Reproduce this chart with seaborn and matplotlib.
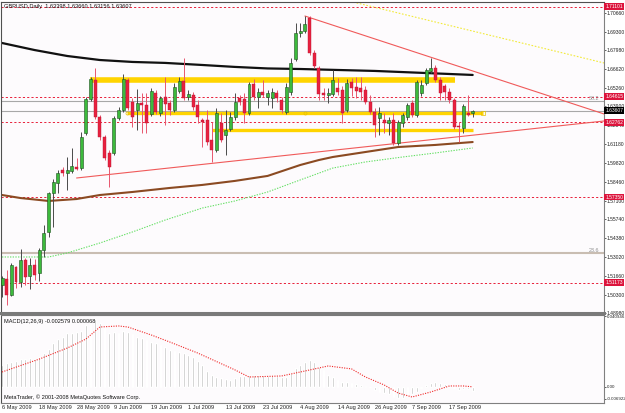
import matplotlib
matplotlib.use("Agg")
import matplotlib.pyplot as plt
import matplotlib.transforms as mtransforms
import numpy as np
import pandas as pd
import seaborn as sns

# ---------------- data ----------------
opens = [1.5099, 1.5143, 1.5027, 1.5230, 1.5121, 1.5280, 1.5165, 1.5244, 1.5186, 1.5353,
         1.5483, 1.5765, 1.5837, 1.5931, 1.5909, 1.5924, 1.5953, 1.5945, 1.6198, 1.6444,
         1.6582, 1.6314, 1.6169, 1.6054, 1.6054, 1.6307, 1.6365, 1.6582, 1.6423, 1.6365,
         1.6415, 1.6401, 1.6336, 1.6488, 1.6343, 1.6459, 1.6415, 1.6365, 1.6502, 1.6574,
         1.6459, 1.6473, 1.6401, 1.6292, 1.6292, 1.6148, 1.6075, 1.6271, 1.6184, 1.6227,
         1.6314, 1.6451, 1.6444, 1.6343, 1.6553, 1.6459, 1.6495, 1.6459, 1.6451, 1.6488,
         1.6437, 1.6350, 1.6495, 1.6733, 1.6921, 1.6936, 1.7030, 1.6777, 1.6668, 1.6488,
         1.6473, 1.6480, 1.6524, 1.6509, 1.6365, 1.6567, 1.6531, 1.6524, 1.6509, 1.6423,
         1.6350, 1.6307, 1.6292, 1.6271, 1.6292, 1.6126, 1.6271, 1.6314, 1.6415, 1.6329,
         1.6488, 1.6560, 1.6647, 1.6668, 1.6582, 1.6538, 1.6495, 1.6437, 1.6249, 1.6235,
         1.6343, 1.63398]
highs = [1.5165, 1.5208, 1.5258, 1.5237, 1.5360, 1.5295, 1.5295, 1.5287, 1.5367, 1.5533,
         1.5772, 1.5866, 1.5931, 1.5953, 1.6025, 1.6090, 1.6018, 1.6206, 1.6459, 1.6603,
         1.6668, 1.6329, 1.6184, 1.6075, 1.6321, 1.6386, 1.6625, 1.6596, 1.6451, 1.6517,
         1.6488, 1.6488, 1.6524, 1.6509, 1.6466, 1.6603, 1.6437, 1.6560, 1.6603, 1.6741,
         1.6509, 1.6495, 1.6437, 1.6307, 1.6365, 1.6278, 1.6379, 1.6343, 1.6365, 1.6350,
         1.6488, 1.6473, 1.6488, 1.6567, 1.6589, 1.6524, 1.6582, 1.6509, 1.6524, 1.6509,
         1.6459, 1.6560, 1.6741, 1.6994, 1.6994, 1.7044, 1.7044, 1.6798, 1.6683, 1.6524,
         1.6524, 1.6654, 1.6596, 1.6538, 1.6589, 1.6596, 1.6603, 1.6603, 1.6538, 1.6473,
         1.6379, 1.6386, 1.6343, 1.6314, 1.6343, 1.6292, 1.6343, 1.6415, 1.6437, 1.6582,
         1.6582, 1.6668, 1.6741, 1.6690, 1.6603, 1.6553, 1.6524, 1.6451, 1.6278, 1.6408,
         1.6473, 1.63660]
lows = [1.5013, 1.4955, 1.5020, 1.5078, 1.5085, 1.5099, 1.5071, 1.5136, 1.5128, 1.5302,
        1.5447, 1.5519, 1.5765, 1.5888, 1.5786, 1.5909, 1.5931, 1.5931, 1.6184, 1.6430,
        1.6300, 1.6148, 1.6003, 1.5808, 1.6039, 1.6292, 1.6350, 1.6365, 1.6242, 1.6220,
        1.6198, 1.6198, 1.6321, 1.6336, 1.6321, 1.6256, 1.6329, 1.6350, 1.6488, 1.6437,
        1.6437, 1.6365, 1.6271, 1.6097, 1.6112, 1.5989, 1.6061, 1.6133, 1.6039, 1.6213,
        1.6292, 1.6401, 1.6271, 1.6329, 1.6437, 1.6379, 1.6459, 1.6401, 1.6379, 1.6423,
        1.6343, 1.6336, 1.6473, 1.6719, 1.6892, 1.6921, 1.6762, 1.6668, 1.6437, 1.6437,
        1.6415, 1.6466, 1.6473, 1.6271, 1.6350, 1.6466, 1.6451, 1.6437, 1.6408, 1.6336,
        1.6169, 1.6184, 1.6198, 1.6184, 1.6112, 1.6112, 1.6242, 1.6292, 1.6314, 1.6314,
        1.6466, 1.6545, 1.6632, 1.6567, 1.6437, 1.6437, 1.6415, 1.6227, 1.6133, 1.6198,
        1.6321, 1.63156]
closes = [1.5150, 1.5027, 1.5244, 1.5121, 1.5280, 1.5157, 1.5244, 1.5172, 1.5353, 1.5475,
          1.5765, 1.5844, 1.5909, 1.5909, 1.5931, 1.5960, 1.5938, 1.6169, 1.6444, 1.6589,
          1.6314, 1.6169, 1.6018, 1.5953, 1.6307, 1.6365, 1.6589, 1.6379, 1.6314, 1.6415,
          1.6401, 1.6271, 1.6502, 1.6350, 1.6451, 1.6408, 1.6365, 1.6531, 1.6574, 1.6451,
          1.6480, 1.6386, 1.6314, 1.6278, 1.6133, 1.6075, 1.6343, 1.6148, 1.6220, 1.6314,
          1.6423, 1.6423, 1.6343, 1.6553, 1.6459, 1.6495, 1.6473, 1.6488, 1.6495, 1.6451,
          1.6365, 1.6531, 1.6705, 1.6921, 1.6936, 1.6986, 1.6777, 1.6683, 1.6480, 1.6473,
          1.6488, 1.6582, 1.6495, 1.6343, 1.6560, 1.6524, 1.6502, 1.6495, 1.6423, 1.6350,
          1.6256, 1.6343, 1.6271, 1.6292, 1.6126, 1.6278, 1.6329, 1.6401, 1.6329, 1.6567,
          1.6545, 1.6654, 1.6668, 1.6582, 1.6488, 1.6495, 1.6437, 1.6242, 1.6242, 1.6394,
          1.6329, 1.63607]

date_ticks = [0, 8, 16, 24, 32, 40, 48, 56, 64, 72, 80, 88, 96]
date_labels = ["6 May 2009", "18 May 2009", "28 May 2009", "9 Jun 2009", "19 Jun 2009",
               "1 Jul 2009", "13 Jul 2009", "23 Jul 2009", "4 Aug 2009", "14 Aug 2009",
               "26 Aug 2009", "7 Sep 2009", "17 Sep 2009"]

price_ticks = [1.70660, 1.69300, 1.67980, 1.66620, 1.65260, 1.63900, 1.62540, 1.61180,
               1.59820, 1.58460, 1.57100, 1.55740, 1.54380, 1.53020, 1.51660, 1.50300, 1.48980]

# moving averages (key points along the curves)
ma_black_idx = [0, 7, 14, 21, 28, 35, 43, 50, 57, 64, 72, 80, 88, 96, 101]
ma_black_val = [1.6849, 1.6798, 1.6755, 1.6726, 1.6712, 1.6705, 1.6690, 1.6676, 1.6665,
                1.6661, 1.6654, 1.6647, 1.6636, 1.6625, 1.6618]
ma_brown_idx = [0, 4, 10, 16, 21, 28, 36, 43, 50, 57, 64, 68, 71, 78, 85, 93, 101]
ma_brown_val = [1.5750, 1.5728, 1.5707, 1.5721, 1.5750, 1.5772, 1.5801, 1.5823, 1.5852,
                1.5888, 1.5967, 1.6003, 1.6025, 1.6061, 1.6097, 1.6112, 1.6133]
ma_green_idx = [0, 7, 10, 14, 21, 28, 35, 43, 50, 57, 64, 71, 78, 86, 93, 101]
ma_green_val = [1.5302, 1.5302, 1.5302, 1.5331, 1.5403, 1.5483, 1.5569, 1.5656, 1.5707,
                1.5772, 1.5859, 1.5945, 1.5989, 1.6025, 1.6054, 1.6090]

# horizontal levels
red_levels = [1.71101, 1.64615, 1.62762, 1.57350, 1.51173]
red_level_labels = ["1.71101", "1.64615", "1.62762", "1.57350", "1.51173"]
bid_price = 1.63607
fib_382 = 1.6433
fib_236 = 1.5329

# trend lines (idx, price)
trend_down = ([65, 130], [1.7044, 1.6327])
trend_up = ([16, 130], [1.5873, 1.6288])
trend_yellow = ([74, 130], [1.7156, 1.6698])

# yellow zones: (start idx, end idx, price, width)
zones_start = [18.9, 26.8, 45.0]
zones_end = [97.2, 103.2, 101.0]
zones_price = [1.6578, 1.6345, 1.6220]
zones_lw = [4.0, 2.4, 2.4]

# MACD
macd = [0.0128, 0.0139, 0.0145, 0.0151, 0.0162, 0.0162, 0.0168, 0.0162, 0.0174, 0.0197,
        0.0220, 0.0255, 0.0278, 0.0290, 0.0313, 0.0313, 0.0319, 0.0325, 0.0360, 0.0383,
        0.0394, 0.0371, 0.0342, 0.0313, 0.0319, 0.0313, 0.0325, 0.0319, 0.0307, 0.0290,
        0.0284, 0.0273, 0.0261, 0.0255, 0.0244, 0.0232, 0.0215, 0.0209, 0.0203, 0.0197,
        0.0186, 0.0174, 0.0151, 0.0128, 0.0093, 0.0070, 0.0058, 0.0052, 0.0046, 0.0041,
        0.0052, 0.0064, 0.0064, 0.0070, 0.0070, 0.0070, 0.0070, 0.0064, 0.0070, 0.0064,
        0.0058, 0.0058, 0.0081, 0.0110, 0.0128, 0.0145, 0.0157, 0.0145, 0.0116, 0.0099,
        0.0070, 0.0058, 0.0041, 0.0029, 0.0029, 0.0023, 0.0017, 0.0012, 0.0006, 0.0002,
        -0.0017, -0.0029, -0.0035, -0.0041, -0.0058, -0.0064, -0.0064, -0.0052, -0.0041, -0.0029,
        -0.0006, 0.0012, 0.0023, 0.0029, 0.0023, 0.0017, 0.0012, -0.0006, -0.0017, -0.0012,
        -0.0012, -0.002579]
signal_idx = [0, 8, 14, 18, 21, 25, 27, 32, 36, 42, 50, 53, 60, 64, 70, 75, 78, 82, 85,
              88, 92, 96, 99, 101]
signal_val = [0.0087, 0.0162, 0.0226, 0.0278, 0.0348, 0.0354, 0.0348, 0.0302, 0.0261,
              0.0197, 0.0099, 0.0058, 0.0064, 0.0087, 0.0122, 0.0105, 0.0058, 0.0012,
              -0.0035, -0.0058, -0.0029, 0.0006, 0.0006, 0.0001]
macd_ticks = [0.040946, 0.0, -0.006922]
macd_tick_labels = ["0.040946", "0.00", "-0.006922"]

# ---------------- style ----------------
sns.set_theme(style="white")
plt.rcParams['font.family'] = ['Liberation Sans Narrow', 'DejaVu Sans Condensed',
                               'Liberation Sans', 'DejaVu Sans']
FS = 4.1
FS_R = 3.6
FS_M = 3.2

W, H = 625, 413
fig = plt.figure(figsize=(W / 100, H / 100), dpi=100)
fig.patch.set_facecolor('white')


def frac(x0, y0, x1, y1):
    return [x0 / W, 1 - y1 / H, (x1 - x0) / W, (y1 - y0) / H]


ax = fig.add_axes(frac(1.5, 1.5, 604, 313))
axm = fig.add_axes(frac(1.5, 315, 604, 403), sharex=ax)
for a in (ax, axm):
    a.set_facecolor('#fdfbfd')

ax.set_xlim(-0.11, 129.18)
ax.set_ylim(1.4897, 1.7149)
axm.set_ylim(-0.00928, 0.04176)

df = pd.DataFrame(dict(o=opens, h=highs, l=lows, c=closes))
df['i'] = np.arange(len(df))
up = (df.c >= df.o).values

# horizontal levels
for v in red_levels:
    ax.axhline(v, color='#e8203a', lw=0.7, ls=(0, (2.2, 2.2)), zorder=1)
ax.axhline(fib_382, color='#a8a8a8', lw=0.8, zorder=1)
ax.axhline(bid_price, color='#a8a8a8', lw=0.8, zorder=1)
ax.axhline(fib_236, color='#c9bdb2', lw=1.5, zorder=1)

# yellow zones
for s, e, p, lw in zip(zones_start, zones_end, zones_price, zones_lw):
    ax.plot([s, e], [p, p], color='#ffd400', lw=lw, solid_capstyle='butt', zorder=2)
ax.plot([zones_start[1], 65], [zones_price[1]] * 2, ls='none', marker='o', ms=2.2,
        mfc='none', mec='#e6c000', mew=0.5, zorder=2)
ax.plot([zones_end[1]], [zones_price[1]], ls='none', marker='s', ms=2.4,
        mfc='none', mec='#e6c000', mew=0.5, zorder=2)

# moving averages
sns.lineplot(x=ma_black_idx, y=ma_black_val, ax=ax, color='#111111', lw=1.6, zorder=2)
sns.lineplot(x=ma_brown_idx, y=ma_brown_val, ax=ax, color='#8b4a22', lw=1.5, zorder=2)
ax.plot(ma_green_idx, ma_green_val, color='#66e066', lw=0.8, ls=(0, (1.2, 1.2)), zorder=2)

# trend lines
ax.plot(*trend_down, color='#f05a5a', lw=0.8, zorder=2)
ax.plot(*trend_up, color='#f05a5a', lw=0.8, zorder=2)
ax.plot(*trend_yellow, color='#f2ea3a', lw=0.8, ls=(0, (1.5, 1.5)), zorder=2)

# candles
ax.vlines(df.i[up], df.l[up], df.h[up], color='#4a4a4a', lw=0.7, zorder=3)
ax.vlines(df.i[~up], df.l[~up], df.h[~up], color='#e8566e', lw=0.7, zorder=3)
body_b = np.minimum(df.o, df.c)
body_h = np.maximum((df.c - df.o).abs(), 0.0003)
ax.bar(df.i[up], body_h[up], bottom=body_b[up], width=0.64, color='#3cba3c',
       edgecolor='#1f4f1f', lw=0.4, zorder=4)
ax.bar(df.i[~up], body_h[~up], bottom=body_b[~up], width=0.64, color='#e8213f',
       edgecolor='#b81634', lw=0.3, zorder=4)

# right-side labels
trans = mtransforms.blended_transform_factory(ax.transAxes, ax.transData)
ax.yaxis.tick_right()
ax.set_yticks(price_ticks)
ax.set_yticklabels([f"{t:.5f}" for t in price_ticks])
ax.tick_params(axis='y', which='both', right=True, left=False, length=1.5, width=0.5,
               pad=0.6, labelsize=FS_R, colors='#222222')
ax.tick_params(axis='x', labelbottom=False, length=0)
for v, t in zip(red_levels, red_level_labels):
    ax.text(1.0022, v, t, transform=trans, ha='left', va='center', fontsize=FS_R,
            color='white', clip_on=False, zorder=10,
            bbox=dict(boxstyle='square,pad=0.18', fc='#dc143c', ec='none'))
ax.text(1.0022, bid_price, f"{bid_price:.5f}", transform=trans, ha='left', va='center',
        fontsize=FS_R, color='white', clip_on=False, zorder=10,
        bbox=dict(boxstyle='square,pad=0.18', fc='#000000', ec='none'))
ax.text(0.975, fib_382, "38.2", transform=trans, ha='left', va='bottom', fontsize=FS - 0.2,
        color='#909090')
ax.text(0.975, fib_236, "23.6", transform=trans, ha='left', va='bottom', fontsize=FS - 0.2,
        color='#909090')

ax.text(0.004, 0.992, "GBPUSD,Daily  1.63398 1.63660 1.63156 1.63607", transform=ax.transAxes,
        ha='left', va='top', fontsize=FS, color='#111111')

# MACD panel
axm.bar(np.arange(len(macd)), macd, width=0.4, color='#bdbdbd', zorder=2)
axm.plot(signal_idx, signal_val, color='#f02828', lw=0.8, ls=(0, (1, 1.2)), zorder=3)
axm.yaxis.tick_right()
axm.set_yticks(macd_ticks)
axm.set_yticklabels(macd_tick_labels)
axm.tick_params(axis='y', which='both', right=True, left=False, length=1.5, width=0.5,
                pad=0.4, labelsize=FS_M, colors='#222222')
axm.set_xticks(date_ticks)
axm.set_xticklabels(date_labels, ha='left')
axm.tick_params(axis='x', length=0, pad=1.5, labelsize=FS, colors='#222222')
axm.text(0.004, 0.955, "MACD(12,26,9) -0.002579 0.000068", transform=axm.transAxes,
         ha='left', va='top', fontsize=FS, color='#111111')
axm.text(0.004, 0.03, "MetaTrader, \u00a9 2001-2008 MetaQuotes Software Corp.",
         transform=axm.transAxes, ha='left', va='bottom', fontsize=FS, color='#111111')

# borders
for a in (ax, axm):
    for s in a.spines.values():
        s.set_visible(True)
        s.set_linewidth(0.8)
        s.set_color('#505050')
    a.spines['right'].set_color('#808080')
ax.spines['bottom'].set_linewidth(2.2)
ax.spines['bottom'].set_color('#7a7a7a')
axm.spines['top'].set_color('#7a7a7a')
axm.spines['bottom'].set_color('#808080')
ax.grid(False)
axm.grid(False)
ax.set_xlabel('')
axm.set_xlabel('')

fig.savefig("out.png", dpi=100, facecolor='white')
